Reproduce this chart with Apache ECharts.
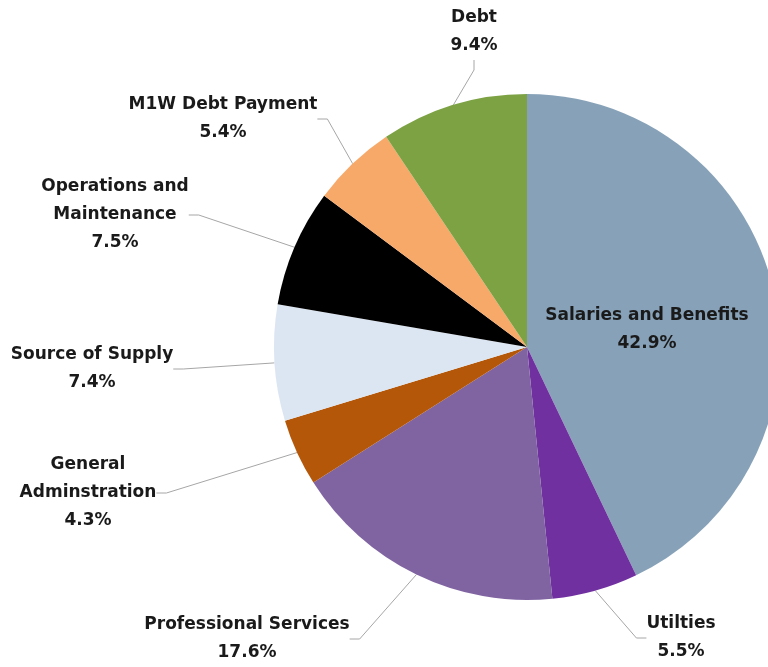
<!DOCTYPE html>
<html>
<head>
<meta charset="utf-8">
<script src="https://cdn.jsdelivr.net/npm/echarts@6/dist/echarts.min.js"></script>
<style>html,body{margin:0;padding:0;background:#fff;}#chart{width:768px;height:667px;}</style>
</head>
<body>
<div id="chart"></div>
<script>
var categories = ["Salaries and Benefits", "Utilties", "Professional Services", "General\nAdminstration", "Source of Supply", "Operations and\nMaintenance", "M1W Debt Payment", "Debt"];
var values = [42.9, 5.5, 17.6, 4.3, 7.4, 7.5, 5.4, 9.4];
var colors = ["#87A2B8", "#7030A0", "#8064A2", "#B45709", "#DCE6F2", "#000000", "#F7A96A", "#7CA244"];

// label anchor centres (layout only)
var labelPos = [[647, 330], [681, 638], [247, 639], [88, 493], [92, 369], [115, 215], [223, 119], [474, 32]];

var chart = echarts.init(document.getElementById('chart'));
var data = categories.map(function (c, i) {
  var d = { name: c, value: values[i], itemStyle: { color: colors[i] } };
  if (i === 0) { d.label = { position: 'inside' }; d.labelLine = { show: false }; }
  return d;
});
chart.setOption({
  animation: false,
  series: [{
    type: 'pie',
    center: [527, 347],
    radius: 253,
    startAngle: 90,
    clockwise: true,
    data: data,
    itemStyle: { borderWidth: 0 },
    label: {
      show: true,
      position: 'outside',
      formatter: function (p) { return p.name + '\n' + p.value.toFixed(1) + '%'; },
      fontFamily: 'DejaVu Sans',
      fontWeight: 'bold',
      fontSize: 17,
      lineHeight: 28,
      color: '#1a1a1a',
      align: 'center'
    },
    labelLine: { show: true, lineStyle: { color: '#A6A6A6', width: 1 }, length: 10, length2: 10 },
    labelLayout: function (p) {
      var pos = labelPos[p.dataIndex];
      return { x: pos[0], y: pos[1], align: 'center', verticalAlign: 'middle', moveOverlap: false, hideOverlap: false };
    }
  }]
});
</script>
</body>
</html>
